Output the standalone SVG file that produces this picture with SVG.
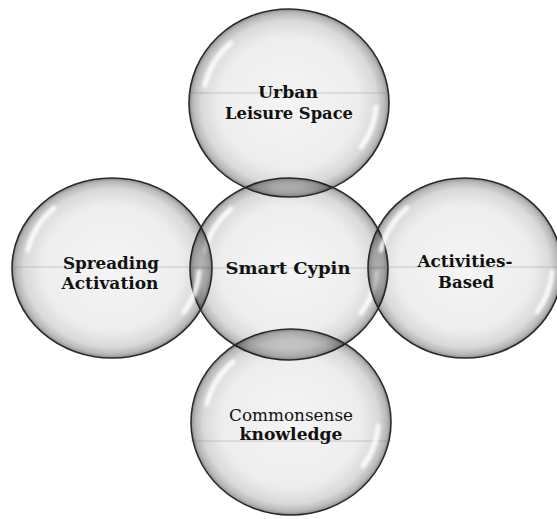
<svg xmlns="http://www.w3.org/2000/svg" width="557" height="519" viewBox="0 0 557 519">
<defs>
<radialGradient id="sphere" cx="0.5" cy="0.5" r="0.5">
<stop offset="0" stop-color="#000" stop-opacity="0.04"/>
<stop offset="0.7" stop-color="#000" stop-opacity="0.07"/>
<stop offset="0.88" stop-color="#000" stop-opacity="0.15"/>
<stop offset="0.96" stop-color="#000" stop-opacity="0.28"/>
<stop offset="1" stop-color="#000" stop-opacity="0.45"/>
</radialGradient>
<filter id="soft" x="-20%" y="-20%" width="140%" height="140%">
<feGaussianBlur stdDeviation="1.4"/>
</filter>
<g id="hl">
<path d="M -84 -18 A 87 80 0 0 1 -58 -60" />
<path d="M 87 4 A 87 80 0 0 1 72 44" />
</g>
</defs>
<style>
.ball{fill:url(#sphere);stroke:#2a2a2a;stroke-width:1.6}
.hl{fill:none;stroke:#fff;stroke-width:5;stroke-linecap:round;opacity:0.85;filter:url(#soft)}
.mid{stroke:#777;stroke-width:0.8;opacity:0.4}
.lb{font-family:"DejaVu Serif","Liberation Serif",serif;font-weight:bold;font-size:17px;fill:#111;text-anchor:middle}
.lr{font-family:"DejaVu Serif","Liberation Serif",serif;font-weight:normal;font-size:17px;fill:#111;text-anchor:middle}
</style>
<g id="connectors"></g>
<g id="node-center">
<ellipse class="ball" cx="289" cy="269" rx="99" ry="91"/>
<line class="mid" x1="190" y1="268" x2="388" y2="268"/>
<use href="#hl" class="hl" transform="translate(289,269)"/>
<text class="lb" x="288" y="274" textLength="125" lengthAdjust="spacingAndGlyphs">Smart Cypin</text>
</g>
<g id="node-top">
<ellipse class="ball" cx="289" cy="103" rx="100" ry="94"/>
<line class="mid" x1="189" y1="93" x2="389" y2="93"/>
<use href="#hl" class="hl" transform="translate(289,103)"/>
<text class="lb" x="288" y="98" textLength="60" lengthAdjust="spacingAndGlyphs">Urban</text>
<text class="lb" x="289" y="119" textLength="128" lengthAdjust="spacingAndGlyphs">Leisure Space</text>
</g>
<g id="node-left">
<ellipse class="ball" cx="112" cy="268" rx="100" ry="90"/>
<line class="mid" x1="12" y1="267" x2="212" y2="267"/>
<use href="#hl" class="hl" transform="translate(112,268)"/>
<text class="lb" x="111" y="269" textLength="96" lengthAdjust="spacingAndGlyphs">Spreading</text>
<text class="lb" x="110" y="289" textLength="97" lengthAdjust="spacingAndGlyphs">Activation</text>
</g>
<g id="node-right">
<ellipse class="ball" cx="465" cy="268" rx="97" ry="90"/>
<line class="mid" x1="368" y1="267" x2="557" y2="267"/>
<use href="#hl" class="hl" transform="translate(465,268)"/>
<text class="lb" x="465" y="267" textLength="95" lengthAdjust="spacingAndGlyphs">Activities-</text>
<text class="lb" x="466" y="288" textLength="56" lengthAdjust="spacingAndGlyphs">Based</text>
</g>
<g id="node-bottom">
<ellipse class="ball" cx="291" cy="422" rx="100" ry="93"/>
<line class="mid" x1="191" y1="441" x2="391" y2="441"/>
<use href="#hl" class="hl" transform="translate(291,422)"/>
<text class="lr" x="291" y="421" textLength="124" lengthAdjust="spacingAndGlyphs">Commonsense</text>
<text class="lb" x="291" y="440" textLength="103" lengthAdjust="spacingAndGlyphs">knowledge</text>
</g>
</svg>
